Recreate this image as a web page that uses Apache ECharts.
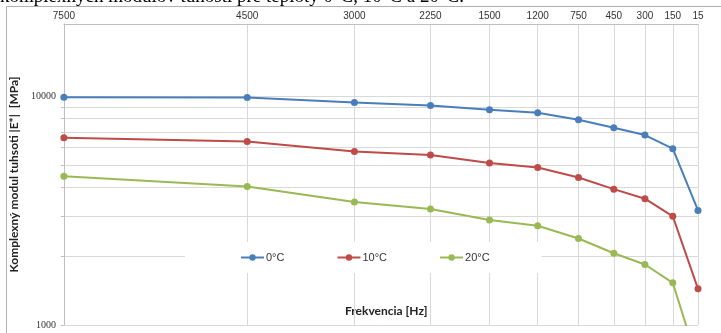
<!DOCTYPE html>
<html>
<head>
<meta charset="utf-8">
<script src="https://cdn.jsdelivr.net/npm/echarts@6/dist/echarts.min.js"></script>
<style>
html,body{margin:0;padding:0;background:#fff;}
#c{width:721px;height:333px;}
</style>
</head>
<body>
<div id="c"></div>
<script>
// Data
const freqLabels = ['7500','4500','3000','2250','1500','1200','750','450','300','150','15'];
const seriesNames = ['0°C','10°C','20°C'];
const e0 = [9930, 9900, 9420, 9130, 8750, 8490, 7910, 7300, 6780, 5910, 3170];
const e10 = [6600, 6350, 5740, 5550, 5120, 4890, 4420, 3930, 3570, 2990, 1440];
const e20 = [4480, 4040, 3450, 3220, 2880, 2720, 2390, 2060, 1840, 1530, 680];
const yTickValues = [1000, 2000, 3000, 4000, 5000, 6000, 7000, 8000, 9000, 10000];
const yLabelValues = [1000, 10000];
const titleText = 'komplexných modulov tuhosti pre teploty 0°C, 10°C a 20°C.';

const colors = ['#4A7EBB', '#BE4B48', '#98B954'];
const positions = freqLabels.map((_, i) => i + 1);
const toPairs = arr => arr.map((v, i) => [positions[i], v]);

const chart = echarts.init(document.getElementById('c'), null, {renderer: 'canvas'});
const gridColor = '#D9D9D9';

chart.setOption({
  animation: false,
  backgroundColor: '#fff',
  color: colors,
  grid: {left: 61, right: 23, top: 24, bottom: 8, containLabel: false},
  graphic: [
    {type: 'rect', silent: true, z: -10, shape: {x: 6.5, y: 6.5, width: 800, height: 400},
     style: {fill: 'none', stroke: '#B0B0B0', lineWidth: 1}},
    {type: 'text', left: 345, top: 305, silent: true,
     style: {text: 'Frekvencia [Hz]', font: 'bold 12px Lato', fill: '#222'}},
    {type: 'text', left: 0, top: -12, silent: true,
     style: {text: titleText, font: '19px Liberation Serif', fill: '#000'}}
  ],
  legend: {
    left: 185, top: 242,
    padding: [10, 52, 10, 55],
    backgroundColor: '#fff',
    itemWidth: 23, itemHeight: 8, itemGap: 52,
    data: seriesNames,
    textStyle: {fontFamily: 'Liberation Sans', fontSize: 11, color: '#333', padding: [0,0,0,-3]}
  },
  xAxis: {
    type: 'log', logBase: 10, min: 1, max: 11, position: 'top',
    axisLine: {show: true, lineStyle: {color: '#BFBFBF'}},
    axisTick: {show: false, customValues: positions},
    axisLabel: {customValues: positions, margin: 3, color: '#333',
      fontFamily: 'Liberation Sans', fontSize: 10,
      formatter: v => freqLabels[Math.round(v) - 1] || ''},
    splitLine: {show: true, lineStyle: {color: gridColor}},
    minorSplitLine: {show: false}
  },
  yAxis: {
    type: 'log', logBase: 10, min: 1000, max: 20750,
    name: 'Komplexný modul tuhsoti |E*|  [MPa]',
    nameLocation: 'middle', nameGap: 33, nameRotate: 90,
    nameTextStyle: {fontFamily: 'Lato', fontWeight: 'bold', fontSize: 12, color: '#222'},
    axisLine: {show: true, lineStyle: {color: '#BFBFBF'}},
    axisTick: {show: true, length: 3, customValues: yTickValues, lineStyle: {color: '#BFBFBF'}},
    axisLabel: {customValues: yLabelValues, margin: 8, color: '#333',
      fontFamily: 'Liberation Serif', fontSize: 10,
      formatter: v => String(Math.round(v))},
    splitLine: {show: true, lineStyle: {color: gridColor}}
  },
  series: [e0, e10, e20].map((d, i) => ({
    name: seriesNames[i], type: 'line', data: toPairs(d),
    symbol: 'circle', symbolSize: 7, clip: true,
    lineStyle: {width: 2, color: colors[i]},
    itemStyle: {color: colors[i]}
  }))
});
</script>
</body>
</html>
